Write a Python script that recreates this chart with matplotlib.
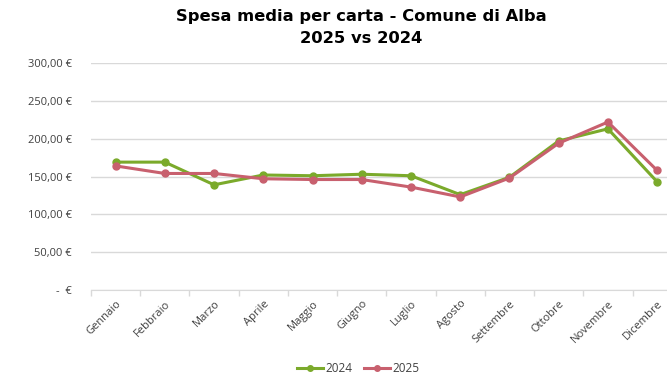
import matplotlib.pyplot as plt
from matplotlib.ticker import FuncFormatter

mesi = ["Gennaio", "Febbraio", "Marzo", "Aprile", "Maggio", "Giugno",
        "Luglio", "Agosto", "Settembre", "Ottobre", "Novembre", "Dicembre"]
spesa_2024 = [169, 169, 139, 152, 151, 153, 151, 126, 149, 197, 213, 143]
spesa_2025 = [164, 154, 154, 147, 146, 146, 136, 123, 148, 194, 222, 158]

plt.rcParams["font.family"] = ["Open Sans", "DejaVu Sans"]

fig = plt.figure(figsize=(6.67, 3.76), dpi=100)
ax = fig.add_axes([91 / 667, 1 - 290 / 376, (667 - 91) / 667, (290 - 63) / 376])

x = range(len(mesi))
ax.plot(x, spesa_2024, color="#7BAA2B", lw=2.2, marker="o", ms=5, label="2024")
ax.plot(x, spesa_2025, color="#C8606E", lw=2.2, marker="o", ms=5, label="2025")

ax.set_ylim(0, 300)
ax.set_xlim(-0.5, 11.2)
ax.set_yticks(range(0, 301, 50))


def euro(v, _):
    if v == 0:
        return "-  €"
    return f"{v:,.2f} €".replace(",", "X").replace(".", ",").replace("X", ".")


ax.yaxis.set_major_formatter(FuncFormatter(euro))
ax.set_xticks(list(x))
ax.set_xticklabels(mesi, rotation=45, ha="right", rotation_mode="anchor")
# small separators between categories on the bottom axis
ax.set_xticks([i + 0.5 for i in range(-1, len(mesi) - 1)], minor=True)
ax.tick_params(axis="x", which="minor", length=4, color="#D9D9D9", width=1)
ax.tick_params(axis="both", which="major", length=0, labelsize=8, colors="#404040", pad=6)
ax.tick_params(axis="y", pad=14)
ax.grid(axis="y", color="#D9D9D9", lw=1)
ax.set_axisbelow(True)
for s in ["top", "right", "left"]:
    ax.spines[s].set_visible(False)
ax.spines["bottom"].set_color("#D9D9D9")

fig.suptitle("Spesa media per carta - Comune di Alba\n2025 vs 2024",
             x=361 / 667, y=0.975, fontsize=11.8, fontweight="bold", color="black",
             linespacing=1.55, family="DejaVu Sans")

fig.legend(loc="lower center", ncol=2, frameon=False, fontsize=8.5,
           bbox_to_anchor=(358 / 667, -0.025), handlelength=2.2, columnspacing=1.0,
           handletextpad=0.2, markerscale=0.8, labelcolor="#404040")

fig.savefig("out.png", dpi=100)
